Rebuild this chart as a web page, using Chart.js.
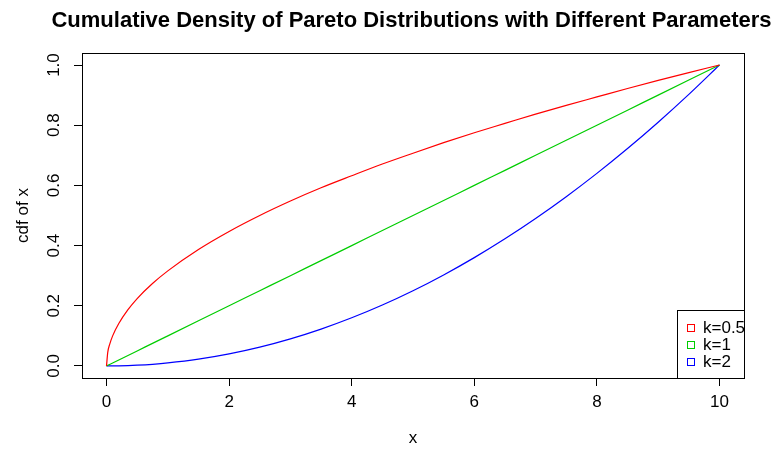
<!doctype html>
<html>
<head>
  <script src="https://cdn.jsdelivr.net/npm/chart.js@4/dist/chart.umd.min.js"></script>
  <style>
    body { margin: 0; background: #fff; }
  </style>
</head>
<body>
  <canvas id="canvas" width="784" height="449"></canvas>
  <script>
    // values
    const xs = [0, 0.02, 0.05, 0.1, 0.2, 0.35, 0.5, 0.75, 1, 1.5, 2, 2.5, 3, 3.5, 4, 4.5, 5, 5.5, 6, 6.5, 7, 7.5, 8, 8.5, 9, 9.5, 10];
    const cdfHalf = [0, 0.045, 0.071, 0.1, 0.141, 0.187, 0.224, 0.274, 0.316, 0.387, 0.447, 0.5, 0.548, 0.592, 0.632, 0.671, 0.707, 0.742, 0.775, 0.806, 0.837, 0.866, 0.894, 0.922, 0.949, 0.975, 1];
    const cdfOne = [0, 0.002, 0.005, 0.01, 0.02, 0.035, 0.05, 0.075, 0.1, 0.15, 0.2, 0.25, 0.3, 0.35, 0.4, 0.45, 0.5, 0.55, 0.6, 0.65, 0.7, 0.75, 0.8, 0.85, 0.9, 0.95, 1];
    const cdfTwo = [0, 0, 0, 0.0001, 0.0004, 0.0012, 0.0025, 0.0056, 0.01, 0.0225, 0.04, 0.0625, 0.09, 0.1225, 0.16, 0.2025, 0.25, 0.3025, 0.36, 0.4225, 0.49, 0.5625, 0.64, 0.7225, 0.81, 0.9025, 1];
    const seriesLabels = ['k=0.5', 'k=1', 'k=2'];
    const seriesColors = ['#ff0000', '#00cd00', '#0000ff'];
    const xTicks = [0, 2, 4, 6, 8, 10];
    const yTicks = [0, 0.2, 0.4, 0.6, 0.8, 1.0];

    const FONT = "'Liberation Sans', Arial, sans-serif";

    function toPoints(ys) {
      return xs.map((x, i) => ({x: x, y: ys[i]}));
    }

    // title, axis titles, frame and the (clipped) legend, drawn like base R
    const rDecor = {
      id: 'rDecor',
      afterDraw(chart) {
        const ctx = chart.ctx;
        const a = chart.chartArea;
        ctx.save();
        ctx.fillStyle = '#000';
        ctx.strokeStyle = '#000';
        ctx.lineWidth = 1;

        ctx.strokeRect(Math.round(a.left) + 0.5, Math.round(a.top) + 0.5,
          Math.round(a.right - a.left), Math.round(a.bottom - a.top));

        const cx = (a.left + a.right) / 2;
        ctx.textAlign = 'center';
        ctx.textBaseline = 'alphabetic';
        ctx.font = 'bold 22px ' + FONT;
        ctx.fillText('Cumulative Density of Pareto Distributions with Different Parameters', cx - 1.5, 26.5);

        ctx.font = '17px ' + FONT;
        ctx.fillText('x', cx, 443);

        ctx.save();
        ctx.translate(28, (a.top + a.bottom) / 2);
        ctx.rotate(-Math.PI / 2);
        ctx.fillText('cdf of x', 0, 0);
        ctx.restore();

        // legend, clipped to the plot region
        ctx.save();
        ctx.beginPath();
        ctx.rect(a.left, a.top, a.right - a.left + 1, a.bottom - a.top + 1);
        ctx.clip();
        ctx.strokeRect(677.5, 310.5, 120, a.bottom - 310);
        ctx.textAlign = 'left';
        ctx.textBaseline = 'middle';
        ctx.font = '17px ' + FONT;
        seriesLabels.forEach((lab, i) => {
          const y = 327.5 + i * 17;
          ctx.strokeStyle = seriesColors[i];
          ctx.strokeRect(687.5, Math.round(y - 3.5) + 0.5, 7, 7);
          ctx.fillStyle = '#000';
          ctx.fillText(lab, 703, y + 1);
        });
        ctx.restore();

        ctx.restore();
      }
    };

    new Chart(document.getElementById('canvas').getContext('2d'), {
      type: 'line',
      data: {
        datasets: [cdfHalf, cdfOne, cdfTwo].map((ys, i) => ({
          label: seriesLabels[i],
          data: toPoints(ys),
          borderColor: seriesColors[i],
          borderWidth: 1.2,
          pointRadius: 0,
          fill: false,
          cubicInterpolationMode: 'monotone'
        }))
      },
      options: {
        responsive: false,
        animation: false,
        events: [],
        layout: { padding: { left: 0, top: 53, right: 40, bottom: 0 } },
        plugins: { legend: { display: false }, title: { display: false }, tooltip: { enabled: false } },
        scales: {
          x: {
            type: 'linear',
            min: -0.4,
            max: 10.4,
            afterFit(s) { s.height = 71; },
            afterBuildTicks(s) { s.ticks = xTicks.map((v) => ({value: v})); },
            border: { display: false },
            grid: { drawOnChartArea: false, tickLength: 8, color: '#000', lineWidth: 1 },
            ticks: {
              color: '#000',
              font: { family: FONT, size: 17 },
              padding: 6,
              maxRotation: 0,
              autoSkip: false,
              callback: (v) => String(v)
            }
          },
          y: {
            type: 'linear',
            min: -0.04,
            max: 1.04,
            afterFit(s) { s.width = 82; },
            afterBuildTicks(s) { s.ticks = yTicks.map((v) => ({value: v})); },
            border: { display: false },
            grid: { drawOnChartArea: false, tickLength: 8, color: '#000', lineWidth: 1 },
            ticks: {
              color: '#000',
              font: { family: FONT, size: 17 },
              padding: 8,
              minRotation: 90,
              maxRotation: 90,
              crossAlign: 'center',
              autoSkip: false,
              callback: (v) => Number(v).toFixed(1)
            }
          }
        }
      },
      plugins: [rDecor]
    });
  </script>
</body>
</html>
